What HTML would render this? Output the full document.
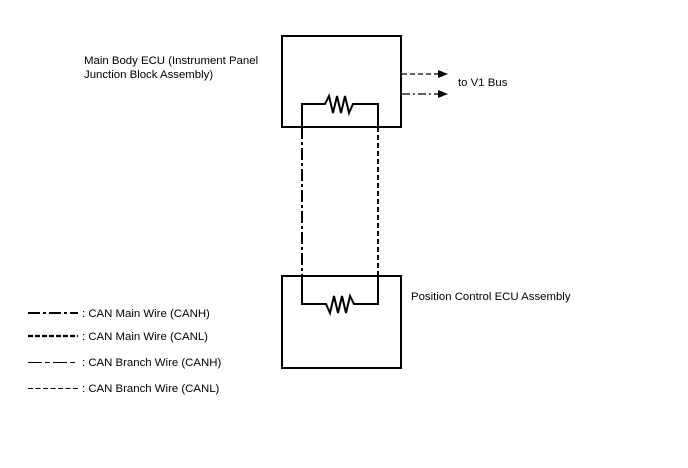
<!DOCTYPE html>
<html><head><style>
body{margin:0;background:#fff;}
svg text{font-family:"Liberation Sans",Arial,sans-serif;font-size:11.4px;fill:#000;}
</style></head><body>
<svg width="688" height="463" viewBox="0 0 688 463" xmlns="http://www.w3.org/2000/svg">
<g fill="none" stroke="#000">
<rect x="282" y="36" width="119" height="91" stroke-width="2"/>
<rect x="282" y="276" width="119" height="92" stroke-width="2"/>
<polyline points="302,127 302,104 325,104 329,96 333,113 337,96 341,113 345,96 349,113 353,104 378,104 378,127" stroke-width="2"/>
<polyline points="302,276 302,304 326,304 330,313 334,296 338,313 342,296 346,313 350,296 354,304 378,304 378,276" stroke-width="2"/>
<line x1="302" y1="127" x2="302" y2="276" stroke-width="2" stroke-dasharray="12,3,3,3"/>
<line x1="378" y1="127" x2="378" y2="276" stroke-width="2" stroke-dasharray="5,3"/>
<line x1="402" y1="74" x2="440" y2="74" stroke-width="1.2" stroke-dasharray="5,3"/>
<line x1="402" y1="94" x2="440" y2="94" stroke-width="1.2" stroke-dasharray="8,3,2,3"/>
<line x1="28" y1="313" x2="78" y2="313" stroke-width="2" stroke-dasharray="12,3,3,3"/>
<line x1="28" y1="336" x2="78" y2="336" stroke-width="2.2" stroke-dasharray="5,2"/>
<line x1="28" y1="362.5" x2="78" y2="362.5" stroke-width="1" stroke-dasharray="14,3,5,3"/>
<line x1="28" y1="388.5" x2="78" y2="388.5" stroke-width="1" stroke-dasharray="5,2.5"/>
</g>
<polygon points="448,74 438,70 438,78" fill="#000"/>
<polygon points="448,94 438,90 438,98" fill="#000"/>
<text x="84" y="64">Main Body ECU (Instrument Panel</text>
<text x="84" y="78">Junction Block Assembly)</text>
<text x="458" y="86">to V1 Bus</text>
<text x="411" y="300">Position Control ECU Assembly</text>
<text x="82" y="317">: CAN Main Wire (CANH)</text>
<text x="82" y="340">: CAN Main Wire (CANL)</text>
<text x="82" y="366">: CAN Branch Wire (CANH)</text>
<text x="82" y="392">: CAN Branch Wire (CANL)</text>
</svg>
</body></html>
